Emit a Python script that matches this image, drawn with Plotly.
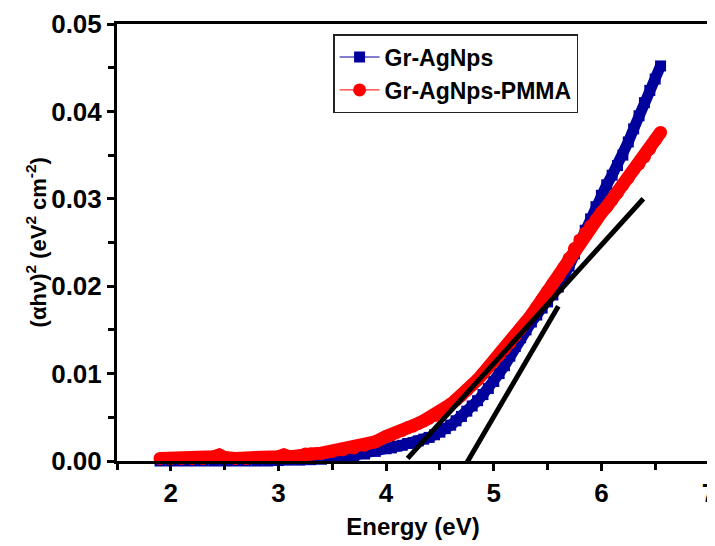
import plotly.graph_objects as go

# ---- data ----
blue_x = [1.9, 2.0, 2.1, 2.2, 2.3, 2.4, 2.5, 2.6, 2.7, 2.8, 2.9, 3.0, 3.1, 3.2, 3.3, 3.4, 3.5, 3.6, 3.7, 3.8, 3.9,
          4.00, 4.05, 4.10, 4.15, 4.20, 4.25, 4.30, 4.35, 4.40, 4.45, 4.50, 4.55, 4.60, 4.65, 4.70, 4.75,
          4.80, 4.85, 4.90, 4.95, 5.00, 5.05, 5.10, 5.15, 5.20, 5.25, 5.30, 5.35, 5.40, 5.45, 5.50, 5.55,
          5.60, 5.65, 5.70, 5.75, 5.80, 5.85, 5.90, 5.95, 6.00, 6.05, 6.10, 6.15, 6.20, 6.25, 6.30, 6.35,
          6.40, 6.45, 6.50, 6.55]
blue_y = [0.0, 0.0, 0.0, 0.0, 0.0, 0.0, 0.0, 0.0, 0.0, 0.0, 0.0, 0.00005, 0.0001, 0.0001, 0.00015, 0.0002,
          0.0003, 0.0004, 0.0006, 0.0008, 0.0011,
          0.0014, 0.0015, 0.0017, 0.0018, 0.0020, 0.0021, 0.0023, 0.0025, 0.0027, 0.0030, 0.0033, 0.0037,
          0.0041, 0.0046, 0.0051, 0.0057, 0.0063, 0.0069, 0.0076, 0.0083, 0.0091, 0.0100, 0.0109, 0.0120,
          0.0131, 0.0141, 0.0150, 0.0159, 0.0167, 0.0175, 0.0182, 0.0190, 0.0199, 0.0211, 0.0223, 0.0237,
          0.0251, 0.0264, 0.0277, 0.0291, 0.0304, 0.0316, 0.0327, 0.0338, 0.0350, 0.0365, 0.0380, 0.0395,
          0.0410, 0.0424, 0.0437, 0.0452]

red_x = [1.9, 2.0, 2.1, 2.2, 2.3, 2.4, 2.45, 2.5, 2.6, 2.7, 2.8, 2.9, 3.0, 3.05, 3.1, 3.2, 3.25, 3.3, 3.4,
         3.5, 3.6, 3.7, 3.8, 3.9,
         4.00, 4.05, 4.10, 4.15, 4.20, 4.25, 4.30, 4.35, 4.40, 4.45, 4.50, 4.55, 4.60, 4.65, 4.70, 4.75,
         4.80, 4.85, 4.90, 4.95, 5.00, 5.05, 5.10, 5.15, 5.20, 5.25, 5.30, 5.35, 5.40, 5.45, 5.50, 5.55,
         5.60, 5.65, 5.70, 5.75, 5.80, 5.85, 5.90, 5.95, 6.00, 6.05, 6.10, 6.15, 6.20, 6.25, 6.30, 6.35,
         6.40, 6.45, 6.50, 6.55]
red_y = [0.0003, 0.0003, 0.0003, 0.0003, 0.0003, 0.0005, 0.0007, 0.0004, 0.0003, 0.0003, 0.0004, 0.0004,
         0.0005, 0.0007, 0.0005, 0.0006, 0.0008, 0.0008, 0.0009, 0.0011, 0.0013, 0.0015, 0.0018, 0.0022,
         0.0028, 0.0030, 0.0033, 0.0035, 0.0038, 0.0040, 0.0043, 0.0046, 0.0049, 0.0052, 0.0056, 0.0060,
         0.0065, 0.0070, 0.0075, 0.0081, 0.0087, 0.0093, 0.0100, 0.0107, 0.0114, 0.0121, 0.0128, 0.0135,
         0.0143, 0.0151, 0.0159, 0.0167, 0.0176, 0.0185, 0.0194, 0.0203, 0.0211, 0.0221, 0.0232, 0.0243,
         0.0253, 0.0261, 0.0269, 0.0276, 0.0284, 0.0291, 0.0299, 0.0307, 0.0316, 0.0324, 0.0333, 0.0340,
         0.0348, 0.0357, 0.0367, 0.0376]

# tangent (Tauc) lines: end points
fit1_x = [4.20, 6.39]
fit1_y = [0.0003, 0.0300]
fit2_x = [4.75, 5.60]
fit2_y = [-0.0002, 0.0177]

series_names = ["Gr-AgNps", "Gr-AgNps-PMMA"]
BLUE = "#00009C"
RED = "#FF0000"
FONT = "Liberation Sans, Arial, sans-serif"

fig = go.Figure()
# thick bands (the densely packed symbols of the original)
fig.add_trace(go.Scatter(x=blue_x, y=blue_y, mode="lines", showlegend=False, hoverinfo="skip",
                         line=dict(color=BLUE, width=11), cliponaxis=False))
fig.add_trace(go.Scatter(
    x=blue_x, y=blue_y, name=series_names[0], mode="lines+markers",
    line=dict(color=BLUE, width=1),
    marker=dict(symbol="square", size=11, color=BLUE),
    cliponaxis=False))
fig.add_trace(go.Scatter(x=red_x, y=red_y, mode="lines", showlegend=False, hoverinfo="skip",
                         line=dict(color=RED, width=13), cliponaxis=False))
fig.add_trace(go.Scatter(
    x=red_x, y=red_y, name=series_names[1], mode="lines+markers",
    line=dict(color=RED, width=1),
    marker=dict(symbol="circle", size=13, color=RED),
    cliponaxis=False))
fig.add_trace(go.Scatter(
    x=fit1_x, y=fit1_y, mode="lines", showlegend=False,
    line=dict(color="black", width=5), cliponaxis=False))
fig.add_trace(go.Scatter(
    x=fit2_x, y=fit2_y, mode="lines", showlegend=False,
    line=dict(color="black", width=5), cliponaxis=False))

axis_common = dict(
    showgrid=False, zeroline=False, showline=True, linecolor="black", linewidth=3,
    mirror=True, ticks="outside", ticklen=7, tickwidth=2.5, tickcolor="black",
    tickfont=dict(family=FONT, size=26, color="black", weight="bold"),
    automargin=False, ticklabeloverflow="allow",
)

fig.update_xaxes(
    **axis_common, range=[1.5, 7], dtick=1, tick0=0,
    minor=dict(dtick=0.5, ticks="outside", ticklen=6, tickwidth=2.5, tickcolor="black"),
    title=dict(text="Energy (eV)", font=dict(family=FONT, size=24, color="black", weight="bold"),
               standoff=11),
)
fig.update_yaxes(
    **axis_common, range=[0, 0.05], dtick=0.01, tick0=0, tickformat=".2f",
    minor=dict(dtick=0.005, ticks="outside", ticklen=6, tickwidth=2.5, tickcolor="black"),
)

fig.add_annotation(
    text="(αhν)<sup>2</sup> (eV<sup>2</sup> cm<sup>-2</sup>)",
    xref="paper", yref="paper", x=-0.137, y=0.5, xanchor="center", yanchor="middle",
    textangle=-90, showarrow=False,
    font=dict(family=FONT, size=22, color="black", weight="bold"),
)

fig.update_layout(
    width=707, height=538,
    margin=dict(l=109, r=6, t=16, b=85),
    paper_bgcolor="white", plot_bgcolor="white",
    font=dict(family=FONT, color="black"),
    legend=dict(x=0.365, y=0.977, xanchor="left", yanchor="top",
                bgcolor="white", bordercolor="#222222", borderwidth=1.5,
                font=dict(family=FONT, size=23, color="black", weight="bold"),
                tracegroupgap=0, itemwidth=40),
    showlegend=True,
)

fig.write_html("out.html")
